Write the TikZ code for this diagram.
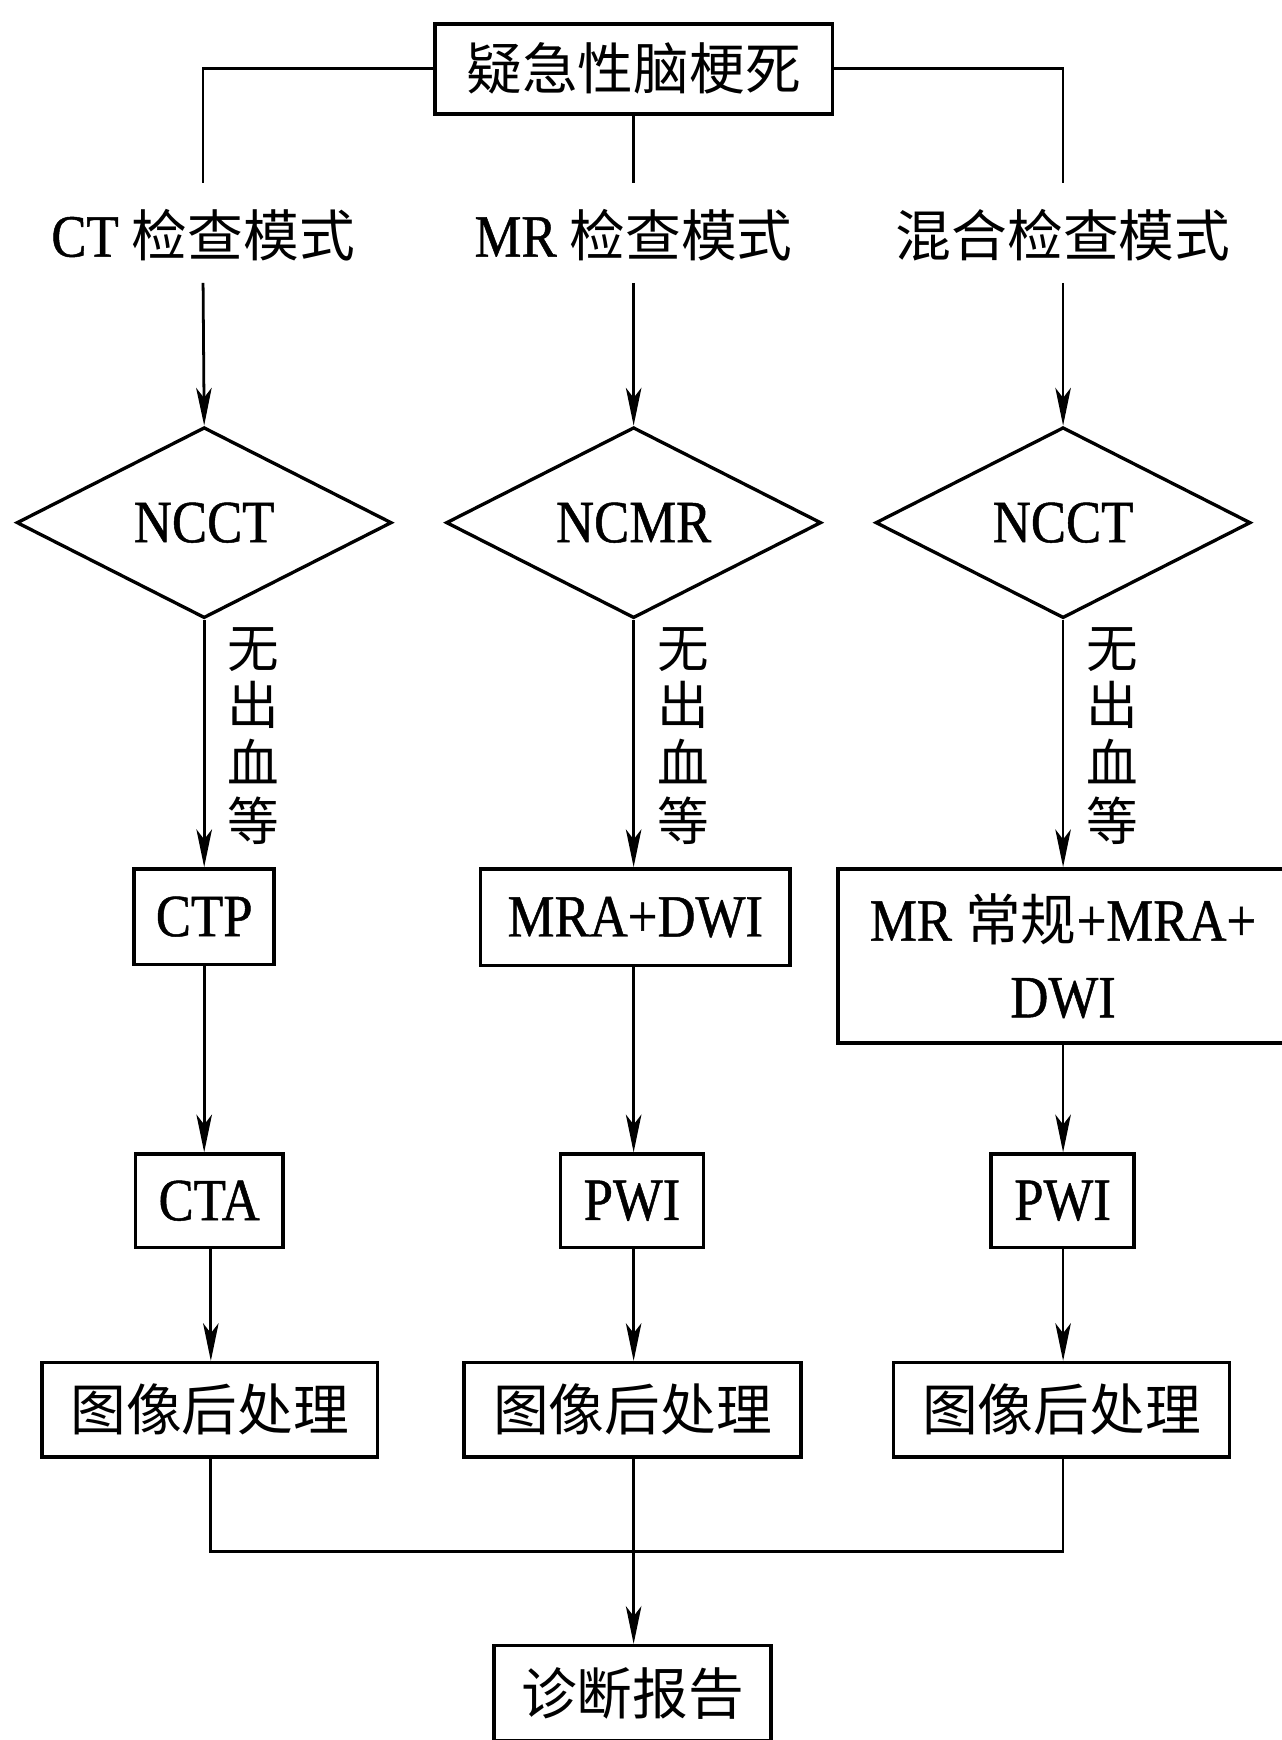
\documentclass[tikz,border=0pt]{standalone}
\usepackage{fontspec}
\setmainfont[FakeStretch=0.88,FakeBold=0.8]{Liberation Serif}
\newfontfamily\cjk[Scale=0.93]{Noto Sans CJK SC}
\usetikzlibrary{shapes.geometric,arrows.meta}
\newcommand\fsz{\fontsize{54pt}{69pt}\selectfont}
\newcommand\vsz{\fontsize{50pt}{52pt}\selectfont}
\begin{document}
\begin{tikzpicture}[x=1pt,y=-1pt,
  box/.style={draw,line width=3.2pt,inner sep=0pt,font=\fsz,align=center},
  dia/.style={draw,diamond,line width=3pt,inner sep=0pt,minimum width=338pt,minimum height=172pt,aspect=1.97,font=\fsz},
  lab/.style={inner sep=0pt,font=\fsz},
  side/.style={inner sep=0pt,font=\vsz,align=center},
  con/.style={line width=2.5pt},
  arr/.style={con,-{Stealth[length=34pt,width=14pt,inset=9pt]}}]
\useasboundingbox (0,0) rectangle (1155,1568);
% top
\node[box,minimum width=358pt,minimum height=81pt] (top) at (571,62) {\cjk 疑急性脑梗死};
% mode labels
\node[lab] (m1) at (183,212) {CT {\cjk 检查模式}};
\node[lab] (m2) at (571,212) {MR {\cjk 检查模式}};
\node[lab] (m3) at (958,212) {\cjk 混合检查模式};
\coordinate (t1) at (183,165);
\coordinate (t2) at (571,165);
\coordinate (t3) at (958,165);
\coordinate (s1) at (183,255);
\coordinate (s2) at (571,255);
\coordinate (s3) at (958,255);
% diamonds
\node[dia] (d1) at (184,471) {NCCT};
\node[dia] (d2) at (571,471) {NCMR};
\node[dia] (d3) at (958,471) {NCCT};
% second row
\node[box,minimum width=126pt,minimum height=86pt] (ctp) at (184,826) {CTP};
\node[box,minimum width=279pt,minimum height=87pt] (mra) at (572.5,826.5) {MRA+DWI};
\node[box,minimum width=406pt,minimum height=157pt] (mr3) at (958,861.5) {MR {\cjk 常规}+MRA+\\DWI};
% side labels
\node[side] (n1) at (228,663) {\cjk 无\\\cjk 出\\\cjk 血\\\cjk 等};
\node[side] (n2) at (616,663) {\cjk 无\\\cjk 出\\\cjk 血\\\cjk 等};
\node[side] (n3) at (1002,663) {\cjk 无\\\cjk 出\\\cjk 血\\\cjk 等};
% third row
\node[box,minimum width=133pt,minimum height=84pt] (cta) at (188.5,1082) {CTA};
\node[box,minimum width=129pt,minimum height=84pt] (pwi2) at (569.5,1082) {PWI};
\node[box,minimum width=129pt,minimum height=84pt] (pwi3) at (957.5,1082) {PWI};
% fourth row
\node[box,minimum width=302pt,minimum height=85pt] (img1) at (189,1270.5) {\cjk 图像后处理};
\node[box,minimum width=304pt,minimum height=85pt] (img2) at (570,1270.5) {\cjk 图像后处理};
\node[box,minimum width=303pt,minimum height=85pt] (img3) at (956.5,1270.5) {\cjk 图像后处理};
% report
\node[box,minimum width=250pt,minimum height=86pt] (rep) at (570,1526) {\cjk 诊断报告};
\coordinate (j1) at (190,1398);
\coordinate (j3) at (958,1398);
% connectors
\draw[con] (top.west) -| (t1);
\draw[con] (top.east) -| (t3);
\draw[con] (top.south) -- (t2);
\draw[arr] (s1) -- (d1.north);
\draw[arr] (s2) -- (d2.north);
\draw[arr] (s3) -- (d3.north);
\draw[arr] (d1.south) -- (d1.south |- ctp.north);
\draw[arr] (d2.south) -- (d2.south |- mra.north);
\draw[arr] (d3.south) -- (d3.south |- mr3.north);
\draw[arr] (ctp.south -| d1.south) -- (d1.south |- cta.north);
\draw[arr] (mra.south -| d2.south) -- (d2.south |- pwi2.north);
\draw[arr] (mr3.south -| d3.south) -- (d3.south |- pwi3.north);
\draw[arr] (cta.south -| j1) -- (j1 |- img1.north);
\draw[arr] (pwi2.south -| d2.south) -- (d2.south |- img2.north);
\draw[arr] (pwi3.south -| d3.south) -- (d3.south |- img3.north);
\draw[con] (img1.south -| j1) -- (j1) -- (j3) -- (img3.south -| j3);
\draw[arr] (img2.south -| d2.south) -- (d2.south |- rep.north);
\end{tikzpicture}
\end{document}
